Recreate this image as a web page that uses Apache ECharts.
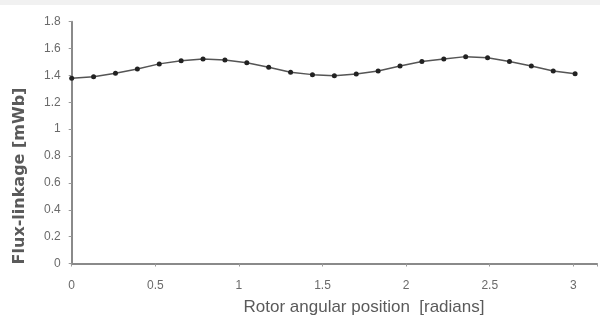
<!DOCTYPE html>
<html>
<head>
<meta charset="utf-8">
<script src="https://cdn.jsdelivr.net/npm/echarts@6/dist/echarts.min.js"></script>
<style>html,body{margin:0;padding:0;background:#fff;}#c{width:600px;height:324px;}</style>
</head>
<body>
<div id="c"></div>
<script>
// Rotor angular positions: k*pi/24, k = 0..23
const stepCount = 24;
const positions = [];
for (let k = 0; k < stepCount; k++) positions.push(k * Math.PI / 24);
const fluxLinkage = [1.379, 1.391, 1.416, 1.448, 1.486, 1.510, 1.523, 1.515, 1.495, 1.461, 1.424, 1.406,
                     1.397, 1.411, 1.433, 1.471, 1.503, 1.523, 1.540, 1.532, 1.503, 1.471, 1.433, 1.413];
const yTicks = [0, 0.2, 0.4, 0.6, 0.8, 1, 1.2, 1.4, 1.6, 1.8];
const xTicks = [0, 0.5, 1, 1.5, 2, 2.5, 3];
const xTitle = 'Rotor angular position  [radians]';
const yTitle = 'Flux-linkage [mWb]';

const chart = echarts.init(document.getElementById('c'), null, {renderer: 'canvas'});
const lbl = {color: '#6a6a6a', fontSize: 12, fontFamily: 'Liberation Sans, sans-serif'};
chart.setOption({
  animation: false,
  backgroundColor: '#fff',
  grid: {left: 71.7, right: -12.1, top: 21.7, bottom: 60.5},
  xAxis: {
    type: 'value', min: 0, max: Math.PI, interval: 0.5,
    axisLine: {show: true, onZero: false, lineStyle: {color: '#8a8a8a', width: 2}},
    axisTick: {show: true, length: 3, lineStyle: {color: '#999'}},
    splitLine: {show: false},
    axisLabel: Object.assign({margin: 16, formatter: v => xTicks.indexOf(v) >= 0 ? String(v) : ''}, lbl)
  },
  yAxis: {
    type: 'value', min: 0, max: 1.8, interval: 0.2,
    axisLine: {show: true, lineStyle: {color: '#8a8a8a', width: 2}},
    axisTick: {show: true, length: 3, lineStyle: {color: '#999'}},
    splitLine: {show: false},
    axisLabel: Object.assign({margin: 11, formatter: v => {
      const t = yTicks.find(x => Math.abs(x - v) < 1e-9);
      return t === undefined ? '' : String(t);
    }}, lbl)
  },
  graphic: [
    {type: 'rect', shape: {x: 0, y: 0, width: 600, height: 5}, style: {fill: '#f1f1f1'}, silent: true},
    {type: 'text', x: 364, y: 307, style: {text: xTitle, fill: '#5a5a5a', font: '17px "Liberation Sans", sans-serif', align: 'center', verticalAlign: 'middle'}},
    {type: 'text', x: 20, y: 176, rotation: Math.PI / 2, style: {text: yTitle, fill: '#5a5a5a', font: 'bold 16px "DejaVu Sans", sans-serif', align: 'center', verticalAlign: 'middle'}}
  ],
  series: [{
    type: 'line',
    data: positions.map((p, i) => [p, fluxLinkage[i]]),
    symbol: 'circle', symbolSize: 5,
    itemStyle: {color: '#222'},
    lineStyle: {color: '#555', width: 1.5}
  }]
});
</script>
</body>
</html>
